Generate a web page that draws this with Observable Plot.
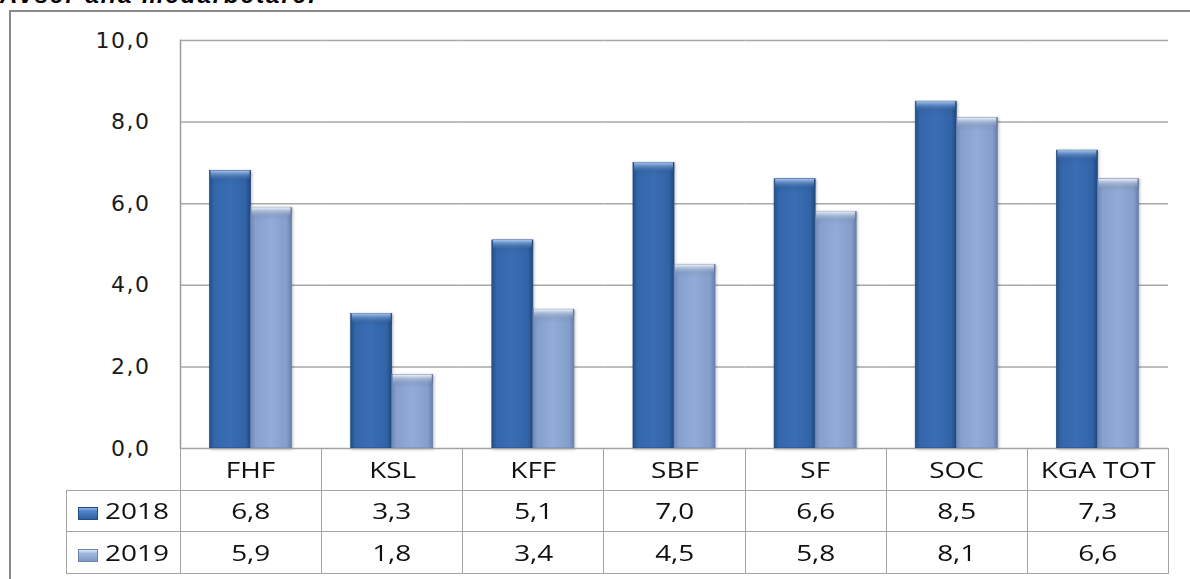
<!DOCTYPE html>
<html><head><meta charset="utf-8">
<script src="https://cdn.jsdelivr.net/npm/d3@7"></script>
<script src="https://cdn.jsdelivr.net/npm/@observablehq/plot@0.6"></script>
<style>
html,body{margin:0;padding:0;background:#fff;}
#wrap{position:relative;width:1190px;height:579px;overflow:hidden;background:#fff;}
#title{position:absolute;left:0;top:-17px;font:italic bold 24px/24px "Liberation Sans",Arial,sans-serif;letter-spacing:2px;white-space:nowrap;color:#000;}
#frame{position:absolute;left:9px;top:10px;width:1300px;height:700px;border:2px solid #8a8a8a;box-sizing:border-box;}
#chart{position:absolute;left:0;top:0;}
#tbl{position:absolute;left:66px;top:448px;border-collapse:collapse;table-layout:fixed;font-family:"Open Sans",sans-serif;font-size:21px;color:#111;}
#tbl td{border:1px solid #a3a3a3;text-align:center;padding:0;white-space:nowrap;overflow:visible;}
#tbl td.empty{border-top:none;border-left:none;}
#tbl td.lab{text-align:left;padding-left:11px;}
.s{display:inline-block;transform:scaleX(1.33);transform-origin:50% 50%;}
.lab .s{transform-origin:0 50%;}
.sw{display:inline-block;width:20px;height:13px;vertical-align:-1px;margin-right:7px;box-sizing:border-box;}
.sw18{background:linear-gradient(180deg,#8db4ea 0%,#4f82c6 30%,#2f60a4 100%);border:1px solid #214b82;}
.sw19{background:linear-gradient(180deg,#dfe9f8 0%,#a3badf 30%,#7f98c6 100%);border:1px solid #6b82ad;}
</style>
</head><body>
<div id="wrap">
  <div id="frame"></div>
  <div id="title">Avser alla medarbetare.</div>
  <div id="chart"></div>
  <table id="tbl"></table>
</div>
<script>
const categories = ["FHF","KSL","KFF","SBF","SF","SOC","KGA TOT"];
const years = ["2018","2019"];
const values2018 = [6.8,3.3,5.1,7.0,6.6,8.5,7.3];
const values2019 = [5.9,1.8,3.4,4.5,5.8,8.1,6.6];
const yTicks = [0,2,4,6,8,10];
const title = "Avser alla medarbetare.";

const fmt = d => d3.format(".1f")(d).replace(".", ",");
const rows = categories.flatMap((c,i)=>[
  {cat:c, year:years[0], value:values2018[i]},
  {cat:c, year:years[1], value:values2019[i]}
]);
const r18 = rows.filter(d=>d.year===years[0]);
const r19 = rows.filter(d=>d.year===years[1]);

const chart = Plot.plot({
  width:1190, height:579,
  marginLeft:180, marginRight:22, marginTop:40, marginBottom:131,
  fx:{domain:categories, padding:0, round:false, axis:null},
  x:{domain:years, paddingInner:0, paddingOuter:0.72, round:false, axis:null},
  y:{domain:[0,10], axis:null},
  style:{fontFamily:"'DejaVu Sans', Verdana, sans-serif", fontSize:"22px", color:"#1a1a1a", background:"transparent", overflow:"visible"},
  marks:[
    Plot.ruleY(yTicks, {stroke:"#a8a8a8", strokeWidth:1.5}),
    Plot.frame({anchor:"left", facetAnchor:"left", stroke:"#9a9a9a", strokeWidth:1.5}),
    Plot.barY(r18, {fx:"cat", x:"year", y:"value", fill:"url(#g18)", stroke:"#21487c", strokeWidth:0.7}),
    Plot.barY(r19, {fx:"cat", x:"year", y:"value", fill:"url(#g19)", stroke:"#6a80aa", strokeWidth:0.7}),
    Plot.barY(r18, {fx:"cat", x:"year", y1:d=>d.value-0.26, y2:"value", fill:"url(#c18)", insetLeft:1, insetRight:1}),
    Plot.barY(r19, {fx:"cat", x:"year", y1:d=>d.value-0.26, y2:"value", fill:"url(#c19)", insetLeft:1, insetRight:1}),
    Plot.axisY({ticks:yTicks, tickSize:0, tickPadding:30, tickFormat:fmt, fontSize:22, fill:"#1a1a1a", label:null})
  ]
});

// gradients for the beveled bars
const NS = "http://www.w3.org/2000/svg";
const defs = document.createElementNS(NS, "defs");
function grad(id, stops, vertical){
  const g = document.createElementNS(NS, "linearGradient");
  g.setAttribute("id", id);
  g.setAttribute("x1","0"); g.setAttribute("y1","0");
  g.setAttribute("x2", vertical ? "0" : "1"); g.setAttribute("y2", vertical ? "1" : "0");
  for (const [o,c,op] of stops){
    const s = document.createElementNS(NS,"stop");
    s.setAttribute("offset", o); s.setAttribute("stop-color", c);
    if (op !== undefined) s.setAttribute("stop-opacity", op);
    g.appendChild(s);
  }
  defs.appendChild(g);
}
grad("g18", [["0%","#244f8a"],["12%","#3366aa"],["50%","#3a6db4"],["88%","#3163a6"],["100%","#1f4880"]]);
grad("g19", [["0%","#6f88b6"],["12%","#86a0cf"],["50%","#92abd7"],["88%","#849ecd"],["100%","#677fac"]]);
grad("c18", [["0%","#a4c6f2",1],["100%","#3a6db4",0]], true);
grad("c19", [["0%","#eaf1fb",1],["100%","#92abd7",0]], true);
chart.insertBefore(defs, chart.firstChild);
chart.querySelectorAll('g[aria-label="bar"]').forEach(g => g.style.filter = "drop-shadow(1px 1px 1.5px rgba(0,0,0,0.25))");
chart.querySelectorAll('g[aria-label="y-axis tick label"] text').forEach(t => t.setAttribute("letter-spacing","1.5"));
document.getElementById("chart").appendChild(chart);
document.getElementById("title").textContent = title;

// data table beneath the chart
const tbl = document.getElementById("tbl");
const colW = (1168-180)/categories.length;
let html = `<colgroup><col style="width:114px">${categories.map(()=>`<col style="width:${colW}px">`).join("")}</colgroup>`;
html += `<tr style="height:42px"><td class="empty"></td>${categories.map(c=>`<td><span class="s">${c}</span></td>`).join("")}</tr>`;
html += `<tr style="height:41px"><td class="lab"><span class="sw sw18"></span><span class="s">${years[0]}</span></td>${values2018.map(v=>`<td><span class="s">${fmt(v)}</span></td>`).join("")}</tr>`;
html += `<tr style="height:42px"><td class="lab"><span class="sw sw19"></span><span class="s">${years[1]}</span></td>${values2019.map(v=>`<td><span class="s">${fmt(v)}</span></td>`).join("")}</tr>`;
tbl.innerHTML = html;
</script>
</body></html>
